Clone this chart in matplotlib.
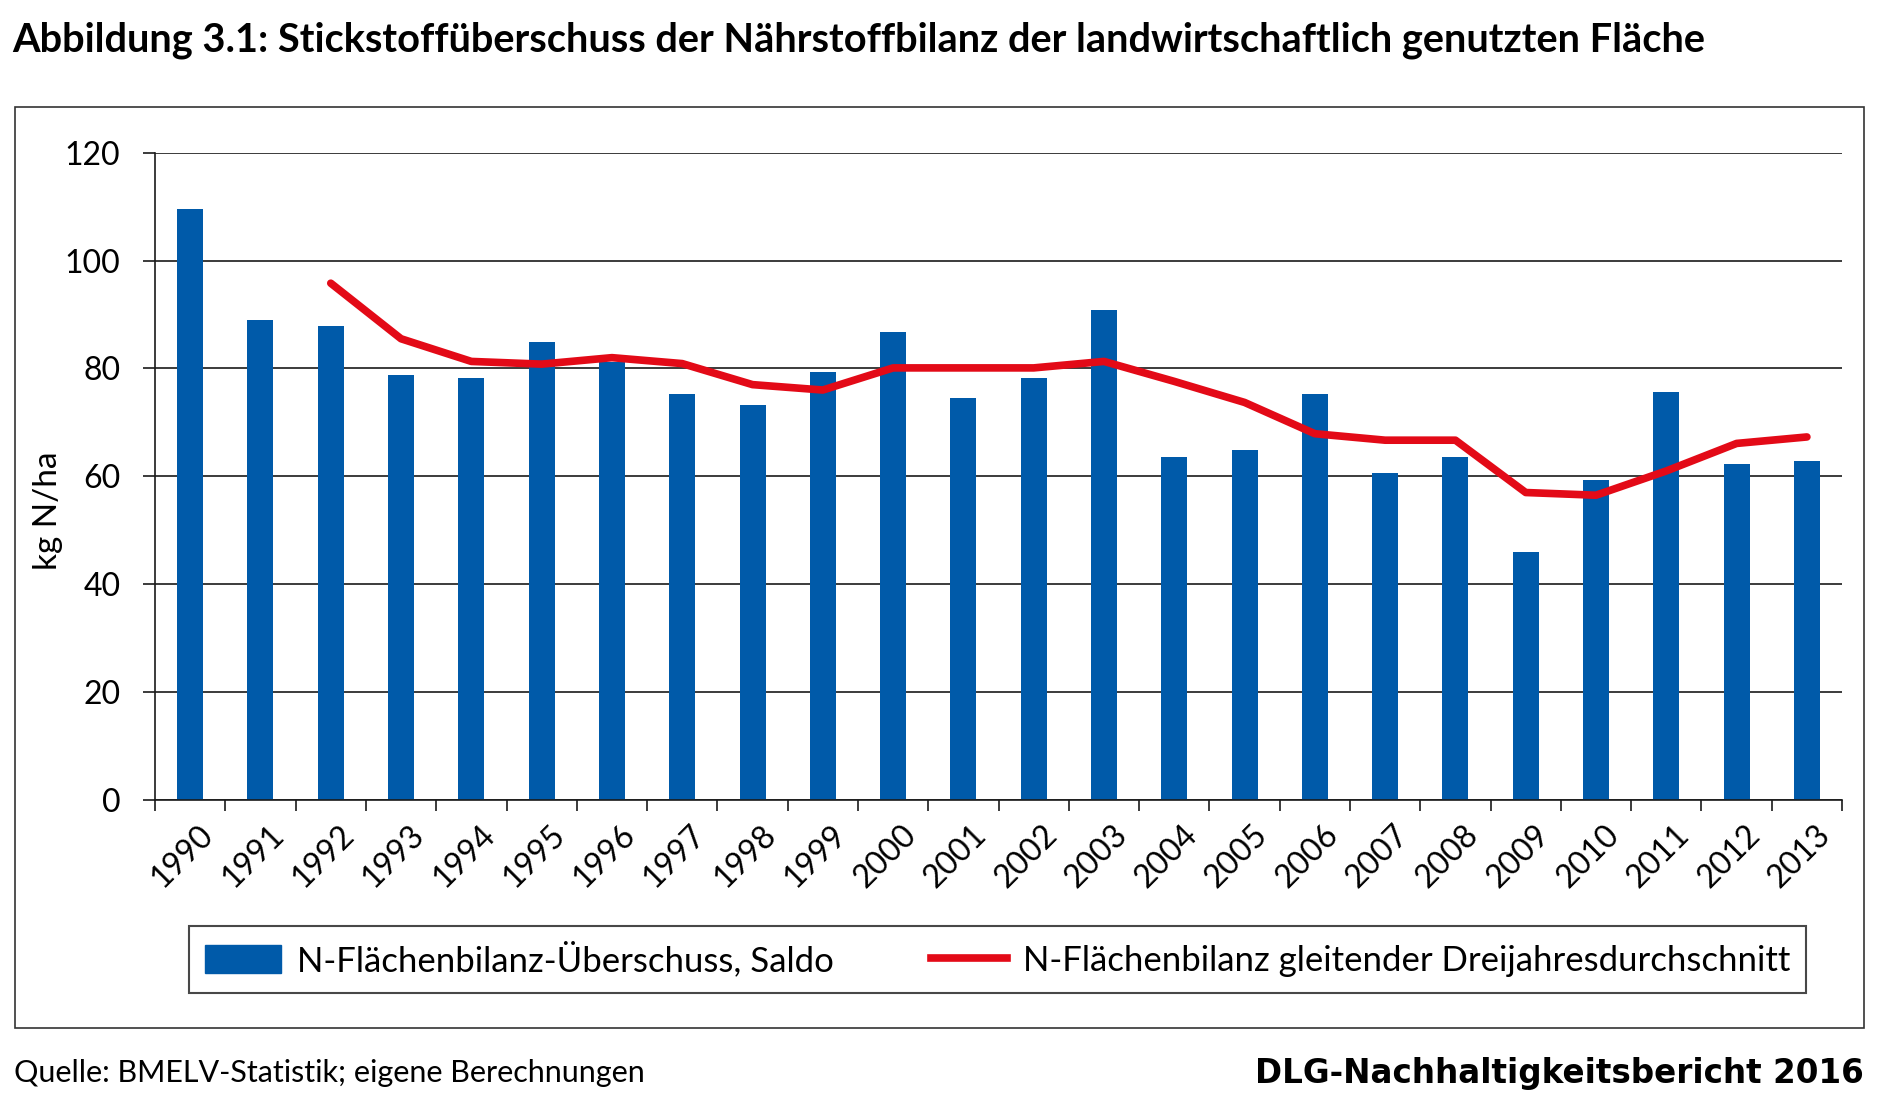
import numpy as np
import matplotlib
matplotlib.use("Agg")
import matplotlib.pyplot as plt
from matplotlib.patches import Rectangle, Patch
from matplotlib.lines import Line2D
from matplotlib.transforms import ScaledTranslation

plt.rcParams['font.family'] = ['Lato', 'DejaVu Sans']

# Daten (kg N/ha)
years = [str(y) for y in range(1990, 2014)]
saldo = [109.6, 89.0, 87.9, 78.8, 78.2, 84.9, 81.2, 75.2, 73.3, 79.4, 86.7, 74.5,
         78.2, 90.9, 63.6, 64.9, 75.2, 60.7, 63.6, 46.0, 59.4, 75.7, 62.3, 62.9]
mittel3 = [np.nan, np.nan, 95.8, 85.5, 81.3, 80.8, 82.0, 80.9, 77.0, 76.0, 80.1, 80.1,
           80.1, 81.3, 77.6, 73.7, 67.9, 66.7, 66.7, 57.0, 56.5, 61.0, 66.1, 67.3]
yticks = [0, 20, 40, 60, 80, 100, 120]

title = "Abbildung 3.1: Stickstoffüberschuss der Nährstoffbilanz der landwirtschaftlich genutzten Fläche"
label_bar = "N-Flächenbilanz-Überschuss, Saldo"
label_line = "N-Flächenbilanz gleitender Dreijahresdurchschnitt"

blue = "#005AA9"
red = "#E30A17"

fig = plt.figure(figsize=(19, 11.2), dpi=100)
ax = fig.add_axes([0.0816, 0.2857, 0.8879, 0.578])

x = np.arange(len(years))
ax.bar(x, saldo, width=0.37, color=blue, zorder=2)
ax.plot(x, mittel3, color=red, lw=5.5, zorder=3, solid_capstyle='round', solid_joinstyle='round')

ax.set_xlim(-0.5, len(years) - 0.5)
ax.set_ylim(0, 120)
ax.set_yticks(yticks)
ax.set_yticklabels([str(v) for v in yticks], fontsize=23)
ax.yaxis.grid(True, color='#1a1a1a', lw=1.2, zorder=1)
ax.set_axisbelow(True)

ax.set_xticks(x)
ax.set_xticklabels(years, rotation=45, ha='right', rotation_mode='anchor', fontsize=23)
ax.set_xticks(np.arange(len(years) + 1) - 0.5, minor=True)
ax.tick_params(axis='x', which='major', length=0, pad=14)
ax.tick_params(axis='x', which='minor', length=8, width=1.2, color='#1a1a1a', direction='out')
ax.tick_params(axis='y', length=9, width=1.2, color='#1a1a1a', pad=16)
# Jahreszahlen etwas nach rechts versetzt wie im Original
shift = ScaledTranslation(8 / 100, 0, fig.dpi_scale_trans)
for lab in ax.get_xticklabels():
    lab.set_transform(lab.get_transform() + shift)

for s in ['top', 'right']:
    ax.spines[s].set_visible(False)
for s in ['left', 'bottom']:
    ax.spines[s].set_color('#1a1a1a')
    ax.spines[s].set_linewidth(1.2)

fig.text(48 / 1900, 1 - 511 / 1120, "kg N/ha", rotation=90, fontsize=24, ha='center', va='center')

# Rahmen um die Grafik
fig.patches.append(Rectangle((14.5 / 1900, 1 - 1027.5 / 1120), (1864 - 14.5) / 1900, (1027.5 - 106.6) / 1120,
                             transform=fig.transFigure, fill=False, ec='#333333', lw=1.2))

handles = [Patch(color=blue, label=label_bar),
           Line2D([], [], color=red, lw=5.5, label=label_line)]
leg = fig.legend(handles=handles, loc='center', ncol=2, fontsize=25, frameon=True, fancybox=False,
                 bbox_to_anchor=(0.525, 0.1437), handlelength=2.2, handleheight=0.9,
                 handletextpad=0.45, columnspacing=2.8, borderpad=0.45, borderaxespad=0)
leg.get_frame().set_edgecolor('#1a1a1a')
leg.get_frame().set_linewidth(1.5)

fig.text(12 / 1900, 1 - 40 / 1120, title, fontsize=28.6, fontweight='bold', ha='left', va='center')
fig.text(14 / 1900, 1 - 1073 / 1120, "Quelle: BMELV-Statistik; eigene Berechnungen", fontsize=22,
         ha='left', va='center')
fig.text(1864 / 1900, 1 - 1073 / 1120, "DLG-Nachhaltigkeitsbericht 2016", fontsize=23.5, fontweight='bold',
         family='DejaVu Sans', ha='right', va='center')

fig.savefig("out.png", dpi=100)
